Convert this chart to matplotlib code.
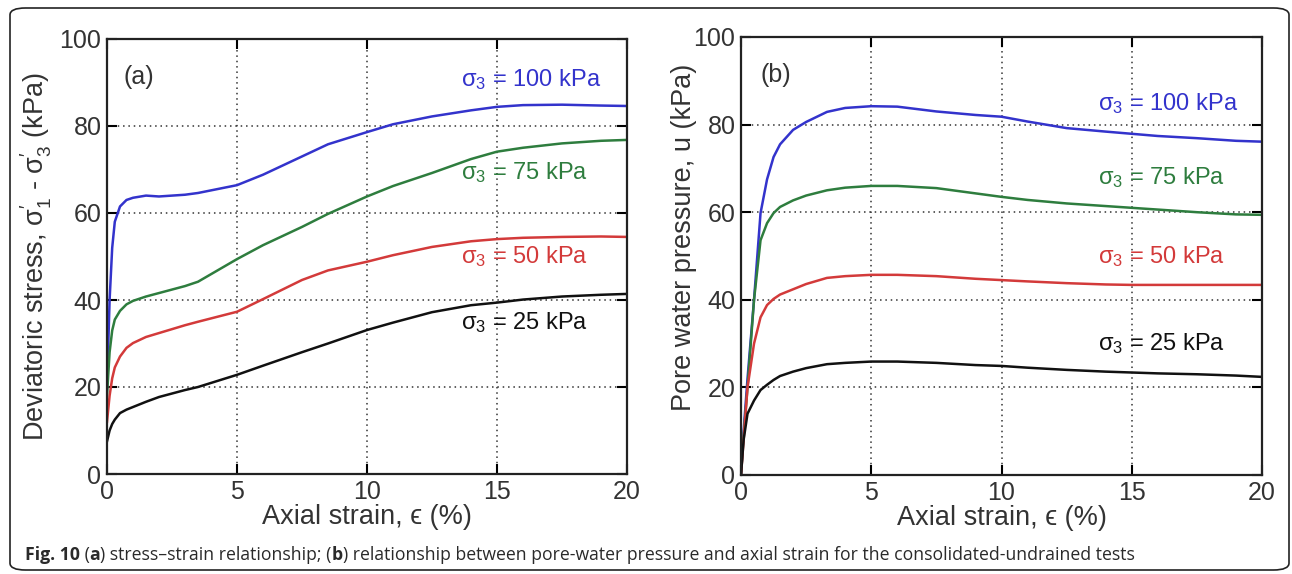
import matplotlib
matplotlib.use('Agg')
import matplotlib.pyplot as plt
from matplotlib.patches import FancyBboxPatch

plt.rcParams['font.family'] = ['Liberation Sans', 'DejaVu Sans']
plt.rcParams['mathtext.default'] = 'regular'

# (a) deviatoric stress vs axial strain
strain_a = [0, 0.1, 0.2, 0.3, 0.5, 0.75, 1, 1.5, 2, 3, 3.5, 5, 6, 7.5, 8.5, 10, 11, 12.5, 14, 15, 16, 17.5, 19, 20]
q_100 = [20, 40, 52, 58, 61.5, 63, 63.5, 64, 63.8, 64.2, 64.6, 66.4, 68.8, 73, 75.8, 78.6, 80.4, 82.2, 83.6, 84.4, 84.8, 84.9, 84.7, 84.6]
q_75 = [18, 28, 33, 35.5, 37.5, 39, 39.8, 40.8, 41.6, 43.2, 44.2, 49.4, 52.6, 56.8, 59.8, 63.8, 66.2, 69.2, 72.4, 74.1, 75.0, 76.0, 76.6, 76.8]
q_50 = [12, 18, 22, 24.5, 27, 29, 30.1, 31.5, 32.4, 34.2, 35, 37.3, 40.2, 44.6, 46.8, 48.8, 50.3, 52.2, 53.5, 54.0, 54.3, 54.5, 54.6, 54.5]
q_25 = [7.5, 10, 11.5, 12.5, 14, 14.8, 15.4, 16.6, 17.7, 19.3, 20, 22.8, 24.9, 28, 30, 33.1, 34.8, 37.2, 38.8, 39.4, 40.1, 40.8, 41.2, 41.4]

# (b) pore water pressure vs axial strain
strain_b = [0, 0.1, 0.25, 0.5, 0.75, 1, 1.25, 1.5, 2, 2.5, 3.3, 4, 5, 6, 7.5, 9, 10, 11, 12.5, 14, 15, 16, 17.5, 19, 20]
u_100 = [0, 10, 22, 40, 59.8, 67.5, 72.6, 75.5, 78.8, 80.6, 82.9, 83.8, 84.2, 84.1, 83.0, 82.2, 81.8, 80.7, 79.2, 78.4, 77.9, 77.4, 76.9, 76.3, 76.1]
u_75 = [0, 9, 20, 40, 53.6, 57.5, 59.8, 61.2, 62.7, 63.8, 65.0, 65.6, 66.0, 66.0, 65.5, 64.3, 63.5, 62.8, 62.0, 61.4, 61.0, 60.6, 60.0, 59.5, 59.4]
u_50 = [0, 8, 20, 30, 36, 38.8, 40.2, 41.2, 42.4, 43.6, 45.0, 45.4, 45.7, 45.7, 45.4, 44.8, 44.5, 44.2, 43.8, 43.5, 43.4, 43.4, 43.4, 43.4, 43.4]
u_25 = [0, 8, 14, 17, 19.4, 20.6, 21.7, 22.6, 23.6, 24.4, 25.3, 25.6, 25.9, 25.9, 25.6, 25.1, 24.9, 24.5, 24.0, 23.6, 23.4, 23.2, 23.0, 22.7, 22.4]

pressures = ['100', '75', '50', '25']
colors = ['#3333cc', '#2e7d3e', '#d33a3a', '#111111']

label_pos_a = [(13.6, 90.6), (13.6, 69.4), (13.6, 49.9), (13.6, 34.9)]
label_pos_b = [(13.7, 84.9), (13.7, 68.0), (13.7, 49.8), (13.7, 30.1)]

fig = plt.figure(figsize=(12.92, 5.74), dpi=100)

# rounded frame around the whole figure
frame = FancyBboxPatch((10 / 1292, 4 / 574), 1279 / 1292, 562 / 574,
                       boxstyle='round,pad=0,rounding_size=0.012',
                       transform=fig.transFigure, fill=False, ec='#222222', lw=1.2)
fig.patches.append(frame)

ax_a = fig.add_axes([107 / 1292, 1 - 474 / 574, 520 / 1292, 435 / 574])
ax_b = fig.add_axes([741 / 1292, 1 - 475 / 574, 521 / 1292, 438 / 574])


def style_axes(ax):
    ax.set_xlim(0, 20)
    ax.set_ylim(0, 100)
    ax.set_xticks([0, 5, 10, 15, 20])
    ax.set_yticks([0, 20, 40, 60, 80, 100])
    ax.grid(True, color='#333333', linestyle=(0, (1, 2.5)), linewidth=1.1)
    ax.tick_params(direction='in', length=7, width=1.5, top=True, right=True,
                   labelsize=18, labelcolor='#333333', pad=4)
    for sp in ax.spines.values():
        sp.set_linewidth(1.6)
        sp.set_color('#222222')
    ax.set_xlabel('Axial strain, ϵ (%)', fontsize=19.5, color='#333333', labelpad=0)


curves_a = [q_100, q_75, q_50, q_25]
curves_b = [u_100, u_75, u_50, u_25]

for ys, c in zip(curves_a, colors):
    ax_a.plot(strain_a, ys, color=c, lw=1.8)
for ys, c in zip(curves_b, colors):
    ax_b.plot(strain_b, ys, color=c, lw=1.8)

for ax, pos in [(ax_a, label_pos_a), (ax_b, label_pos_b)]:
    style_axes(ax)
    for p, c, (x, y) in zip(pressures, colors, pos):
        ax.text(x, y, 'σ$_3$ = ' + p + ' kPa', color=c, fontsize=17, ha='left', va='center')

ax_a.text(0.65, 91.3, '(a)', fontsize=18, color='#333333', va='center')
ax_b.text(0.73, 91.3, '(b)', fontsize=18, color='#333333', va='center')

ax_a.set_ylabel("Deviatoric stress, σ$^{\\prime}_{1}$ - σ$^{\\prime}_{3}$ (kPa)", fontsize=19.5,
                color='#333333')
ax_b.set_ylabel('Pore water pressure, u (kPa)', fontsize=19.5, color='#333333')
ax_a.yaxis.set_label_coords(-0.102, 0.5)
ax_b.yaxis.set_label_coords(-0.084, 0.543)

# caption with bold parts
caption = [('Fig. 10', 'bold'), (' (', 'normal'), ('a', 'bold'),
           (') stress\u2013strain relationship; (', 'normal'), ('b', 'bold'),
           (') relationship between pore-water pressure and axial strain for the consolidated-undrained tests', 'normal')]
fig.canvas.draw()
renderer = fig.canvas.get_renderer()
x = 25
for txt, w in caption:
    t = fig.text(x / 1292, 1 - 560 / 574, txt, fontsize=12.7, fontweight=w,
                 family=['Open Sans', 'DejaVu Sans'], color='#2a2a2a', va='baseline')
    bb = t.get_window_extent(renderer=renderer)
    x += bb.width

fig.savefig('out.png', dpi=100)
